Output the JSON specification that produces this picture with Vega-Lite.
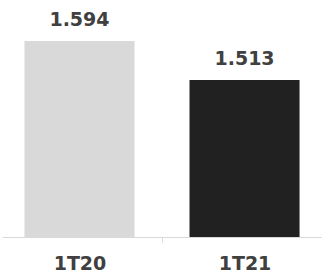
{
  "$schema": "https://vega.github.io/schema/vega-lite/v6.json",
  "width": 320,
  "height": 237,
  "autosize": {"type": "none"},
  "padding": {"left": 2, "top": 0, "right": 0, "bottom": 38},
  "background": "white",
  "config": {"view": {"stroke": null}},
  "data": {"values": [
    {"periodo": "1T20", "valor": 1.594, "texto": "1.594"},
    {"periodo": "1T21", "valor": 1.513, "texto": "1.513"}
  ]},
  "encoding": {
    "x": {
      "field": "periodo", "type": "nominal", "sort": null,
      "scale": {"paddingInner": 0.3333, "paddingOuter": 0.136},
      "axis": {
        "title": null, "labelAngle": 0, "domainColor": "#d9d9d9", "domainWidth": 1,
        "tickColor": "#d9d9d9", "tickSize": 5, "tickOffset": 82.5, "labelOffset": -82.5,
        "labelFont": "DejaVu Sans", "labelFontWeight": "bold", "labelFontSize": 19,
        "labelColor": "#404040", "labelPadding": 12, "labelBaseline": "top"
      }
    },
    "y": {
      "field": "valor", "type": "quantitative",
      "scale": {"domain": [1.187, 1.679], "zero": false, "nice": false},
      "axis": null
    }
  },
  "layer": [
    {
      "mark": {"type": "bar", "clip": true},
      "encoding": {
        "color": {
          "field": "periodo", "type": "nominal", "legend": null,
          "scale": {"domain": ["1T20", "1T21"], "range": ["#d9d9d9", "#212121"]}
        }
      }
    },
    {
      "mark": {"type": "text", "font": "DejaVu Sans", "fontWeight": "bold", "fontSize": 19, "color": "#404040", "baseline": "bottom", "dy": -11},
      "encoding": {"text": {"field": "texto"}}
    }
  ]
}
